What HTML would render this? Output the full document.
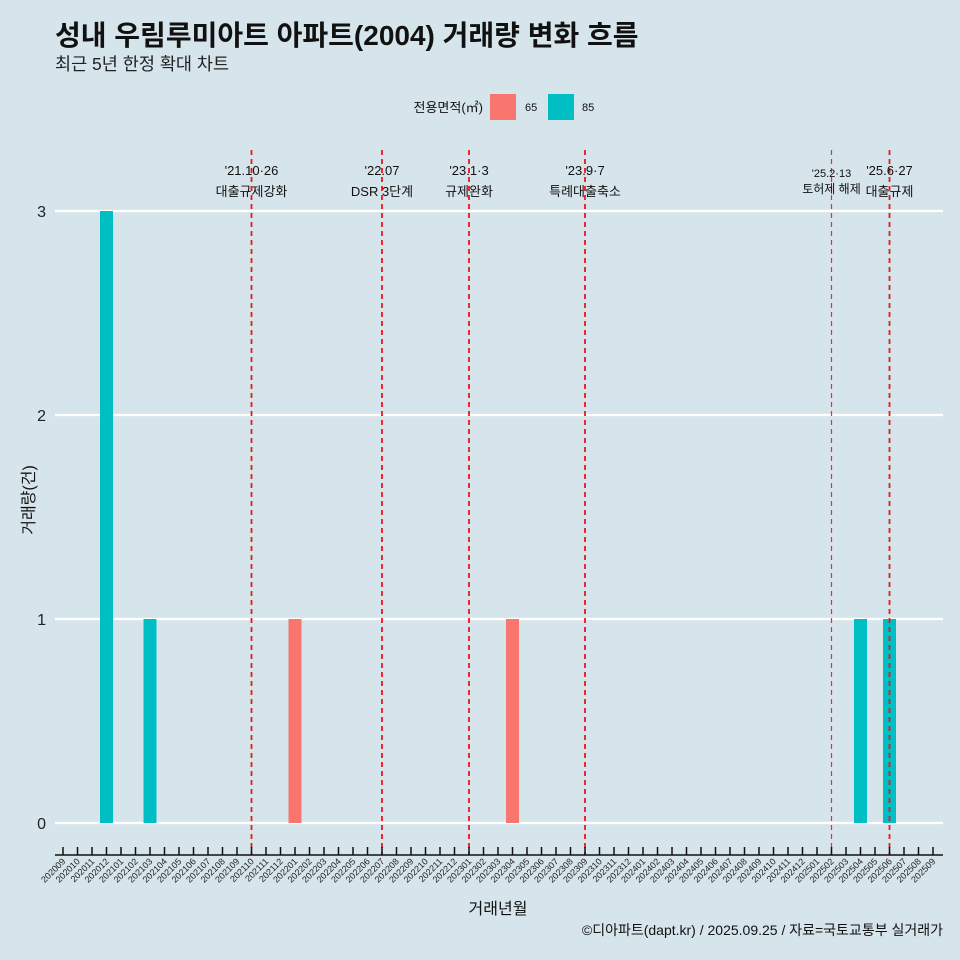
<!DOCTYPE html>
<html><head><meta charset="utf-8">
<style>
body{margin:0;background:#d6e4eb;font-family:"Liberation Sans","Noto Sans CJK KR",sans-serif;overflow:hidden;}
svg{display:block;}
svg text{font-family:"Liberation Sans","Noto Sans CJK KR",sans-serif;}
</style></head>
<body>
<svg id="c" width="960" height="960" xmlns="http://www.w3.org/2000/svg">
<rect width="960" height="960" fill="#d6e4eb"/>
<text x="55" y="45" font-size="28" font-weight="bold" fill="#111">성내 우림루미아트 아파트(2004) 거래량 변화 흐름</text>
<text x="55" y="70" font-size="17.5" fill="#222">최근 5년 한정 확대 차트</text>
<g>
<text x="483" y="112" font-size="13" text-anchor="end" fill="#111">전용면적(㎡)</text>
<rect x="490" y="94" width="26" height="26" fill="#f8766d"/>
<text x="525" y="111" font-size="11" fill="#111">65</text>
<rect x="548" y="94" width="26" height="26" fill="#00bfc4"/>
<text x="582" y="111" font-size="11" fill="#111">85</text>
</g>
<g id="plot"></g>
<text x="498" y="914" font-size="16" text-anchor="middle" fill="#111">거래년월</text>
<text transform="translate(34,500) rotate(-90)" font-size="16" text-anchor="middle" fill="#111">거래량(건)</text>
<text x="943" y="935" font-size="14" text-anchor="end" fill="#111">©디아파트(dapt.kr) / 2025.09.25 / 자료=국토교통부 실거래가</text>
</svg>
<script>
const months=[];for(let y=2020;y<=2025;y++)for(let m=1;m<=12;m++){const k=y*100+m;if(k>=202009&&k<=202509)months.push(String(k));}
const barMonths=["202012","202103","202201","202304","202504","202506"];
const barAreas=["85","85","65","65","85","85"];
const barValues=[3,1,1,1,1,1];
const yTicks=[0,1,2,3];
const eventMonths=["202110","202207","202301","202309","202502","202506"];
const eventDates=["'21.10·26","'22.07","'23.1·3","'23.9·7","'25.2·13","'25.6·27"];
const eventNames=["대출규제강화","DSR 3단계","규제완화","특례대출축소","토허제 해제","대출규제"];
const eventMinor=[false,false,false,false,true,false];
const colors={"65":"#f8766d","85":"#00bfc4"};
const NS="http://www.w3.org/2000/svg";
const g=document.getElementById('plot');
const X0=63,STEP=14.5,Y0=823,YU=204,L=55,R=943;
const x=m=>X0+months.indexOf(m)*STEP;
const y=v=>Y0-v*YU;
function mk(t,a){const e=document.createElementNS(NS,t);for(const k in a)e.setAttribute(k,a[k]);g.appendChild(e);return e;}
yTicks.forEach(v=>{
 let l=mk('line',{x1:L,x2:R,y1:y(v),y2:y(v),stroke:'#fff','stroke-width':2.2});
 
 
 let t=mk('text',{x:46,y:y(v)+6,'font-size':16,'text-anchor':'end',fill:'#222'});t.textContent=v;
 
 
});
barMonths.forEach((m,i)=>{
 const r=mk('rect',{x:x(m)-6.5,y:y(barValues[i]),width:13,height:barValues[i]*YU,fill:colors[barAreas[i]]});
 
 
});
eventMonths.forEach((m,i)=>{
 const xx=x(m),minor=eventMinor[i];
 const l=mk('line',{x1:xx,x2:xx,y1:150,y2:855,stroke:minor?'#e83030':'#e8181b','stroke-width':minor?1.2:1.8,'stroke-dasharray':'5,4'});
 
 
 const t1=mk('text',{x:xx,y:minor?177:175,'font-size':minor?11:13,'text-anchor':'middle',fill:'#111'});t1.textContent=eventDates[i];
 
 
 const t2=mk('text',{x:xx,y:minor?193:196,'font-size':minor?12:13,'text-anchor':'middle',fill:'#111'});t2.textContent=eventNames[i];
 
 
});
const ax=mk('line',{x1:L,x2:R,y1:855,y2:855,stroke:'#111','stroke-width':1.5});


months.forEach(m=>{
 const xx=x(m);
 const tk=mk('line',{x1:xx,x2:xx,y1:847,y2:855,stroke:'#111','stroke-width':1.5});
 
 
 const t=mk('text',{transform:`translate(${xx+3},${862}) rotate(-45)`,'font-size':9,'text-anchor':'end',fill:'#222'});t.textContent=m;
 
 
});
</script>
</body></html>
